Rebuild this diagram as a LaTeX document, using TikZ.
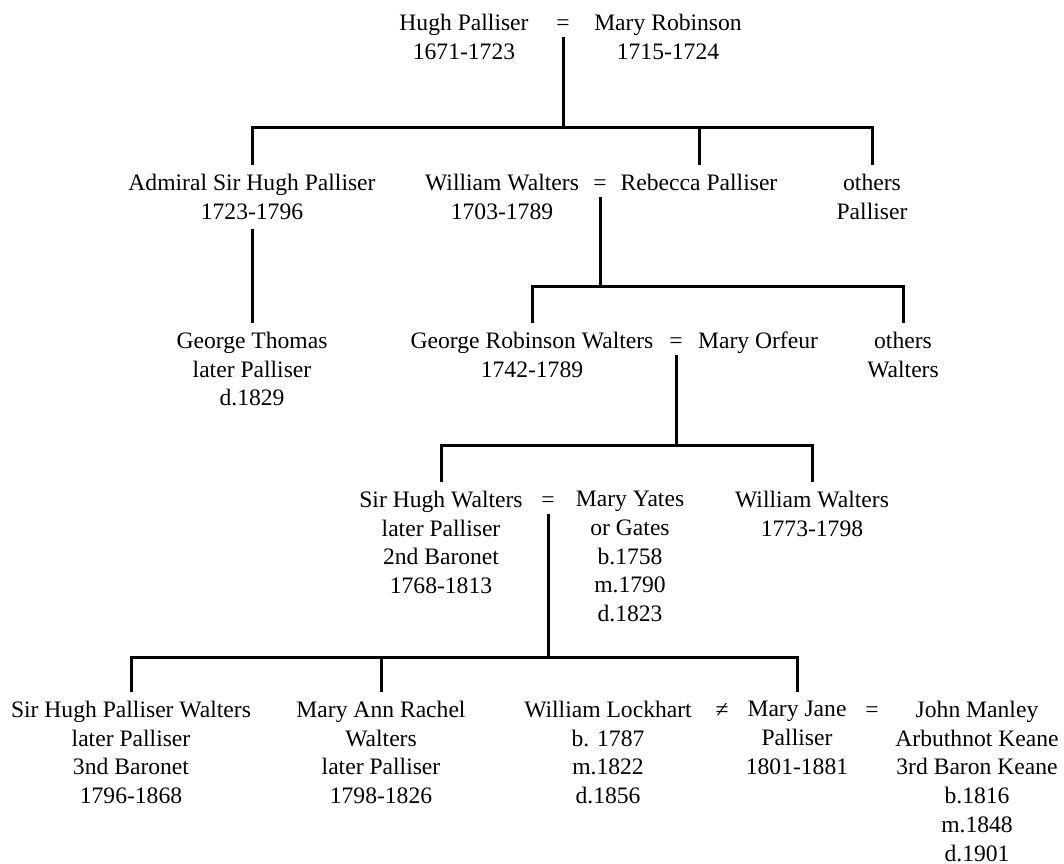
\documentclass[tikz,border=0pt]{standalone}
\usepackage{fontspec}
\setmainfont{Liberation Serif}

\begin{document}
\begin{tikzpicture}[
x=1pt,y=-1pt,
person/.style={
  align=center,
  anchor=north,
  inner sep=9pt
  },
marr/.style={
  anchor=base,
  inner xsep=0pt,
  inner ysep=6.5pt
  },
kin/.style={
  line width=3pt
  },
font=\rmfamily\fontsize{23.6}{28.7}\selectfont
]
\useasboundingbox (0,0) rectangle (1064,863);

% first generation
\node[person] (hugh) at (464,5) {Hugh Palliser\\1671-1723};
\node[marr] (eqA) at (563,30) {=};
\node[person] (mrob) at (668,5) {Mary Robinson\\1715-1724};

% second generation
\node[person] (admiral) at (252,165) {Admiral Sir Hugh Palliser\\1723-1796};
\node[person] (wwalt) at (502,165) {William Walters\\1703-1789};
\node[marr] (eqB) at (600,190) {=};
\node[person] (rebecca) at (699,165) {Rebecca Palliser};
\node[person] (othersP) at (872,165) {others\\Palliser};

% third generation
\node[person] (gthomas) at (252,323) {George Thomas\\later Palliser\\d.1829};
\node[person] (grw) at (532,323) {George Robinson Walters\\1742-1789};
\node[marr] (eqC) at (676,348) {=};
\node[person] (morfeur) at (758,323) {Mary Orfeur};
\node[person] (othersW) at (903,323) {others\\Walters};

% fourth generation
\node[person] (shw) at (441,482) {Sir Hugh Walters\\later Palliser\\2nd Baronet\\1768-1813};
\node[marr] (eqD) at (548,507) {=};
\node[person] (myates) at (630,482) {Mary Yates\\or Gates\\b.1758\\m.1790\\d.1823};
\node[person] (wwalt2) at (812,482) {William Walters\\1773-1798};

% fifth generation
\node[person] (shpw) at (131,692) {Sir Hugh Palliser Walters\\later Palliser\\3nd Baronet\\1796-1868};
\node[person] (mann) at (381,692) {Mary Ann Rachel\\Walters\\later Palliser\\1798-1826};
\node[person] (wlock) at (608,692) {William Lockhart\\b. 1787\\m.1822\\d.1856};
\node[marr] (neq) at (722,717) {≠};
\node[person] (mjane) at (797,692) {Mary Jane\\Palliser\\1801-1881};
\node[marr] (eqE) at (872,717) {=};
\node[person] (jmk) at (977,692) {John Manley\\Arbuthnot Keane\\3rd Baron Keane\\b.1816\\m.1848\\d.1901};

% descent lines
\coordinate (barA) at (563,127);
\draw[kin] (eqA.south) -- (barA);
\draw[kin] (admiral.north) |- (barA) -| (othersP.north);
\draw[kin] (rebecca.north) -- (rebecca.north |- barA);

\draw[kin] (admiral.south) -- (gthomas.north);

\coordinate (barB) at (600,286);
\draw[kin] (eqB.south) -- (barB);
\draw[kin] (grw.north) |- (barB) -| (othersW.north);

\coordinate (barC) at (676,445);
\draw[kin] (eqC.south) -- (barC);
\draw[kin] (shw.north) |- (barC) -| (wwalt2.north);

\coordinate (barD) at (548,657);
\draw[kin] (eqD.south) -- (barD);
\draw[kin] (shpw.north) |- (barD) -| (mjane.north);
\draw[kin] (mann.north) -- (mann.north |- barD);

\end{tikzpicture}
\end{document}
